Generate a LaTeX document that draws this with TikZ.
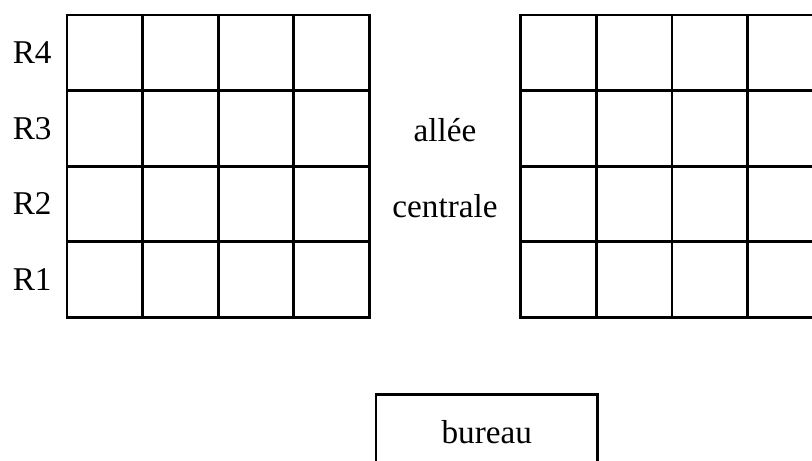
\documentclass[tikz,border=0pt]{standalone}
\usepackage{fontspec}
\setmainfont{Liberation Serif}
\usepackage{tikz}

\begin{document}
\begin{tikzpicture}[line width=1pt, line cap=rect, font=\fontsize{12.5}{15}\selectfont]

 \useasboundingbox (-0.886,0.198) rectangle (9.854,-5.899);
 \clip (-0.886,0.198) rectangle (9.854,-5.899);

 %%%  tables

 % left block and right block
 \draw (0,-4) grid (4,0);
 \draw (6,-4) grid (10,0);

 % rows
 \node (r4) at (-0.46,-0.5) {R4};
 \node (r3) at (-0.46,-1.5) {R3};
 \node (r2) at (-0.46,-2.5) {R2};
 \node (r1) at (-0.46,-3.5) {R1};

 % aisle
 \node (allee) at (5,-1.52) {allée};
 \node (centrale) at (5,-2.53) {centrale};

 %%%  desk

 \node [draw, anchor=north west, minimum width=2.93cm, minimum height=1cm] (bureau) at (4.07,-5) {bureau};

\end{tikzpicture}
\end{document}
